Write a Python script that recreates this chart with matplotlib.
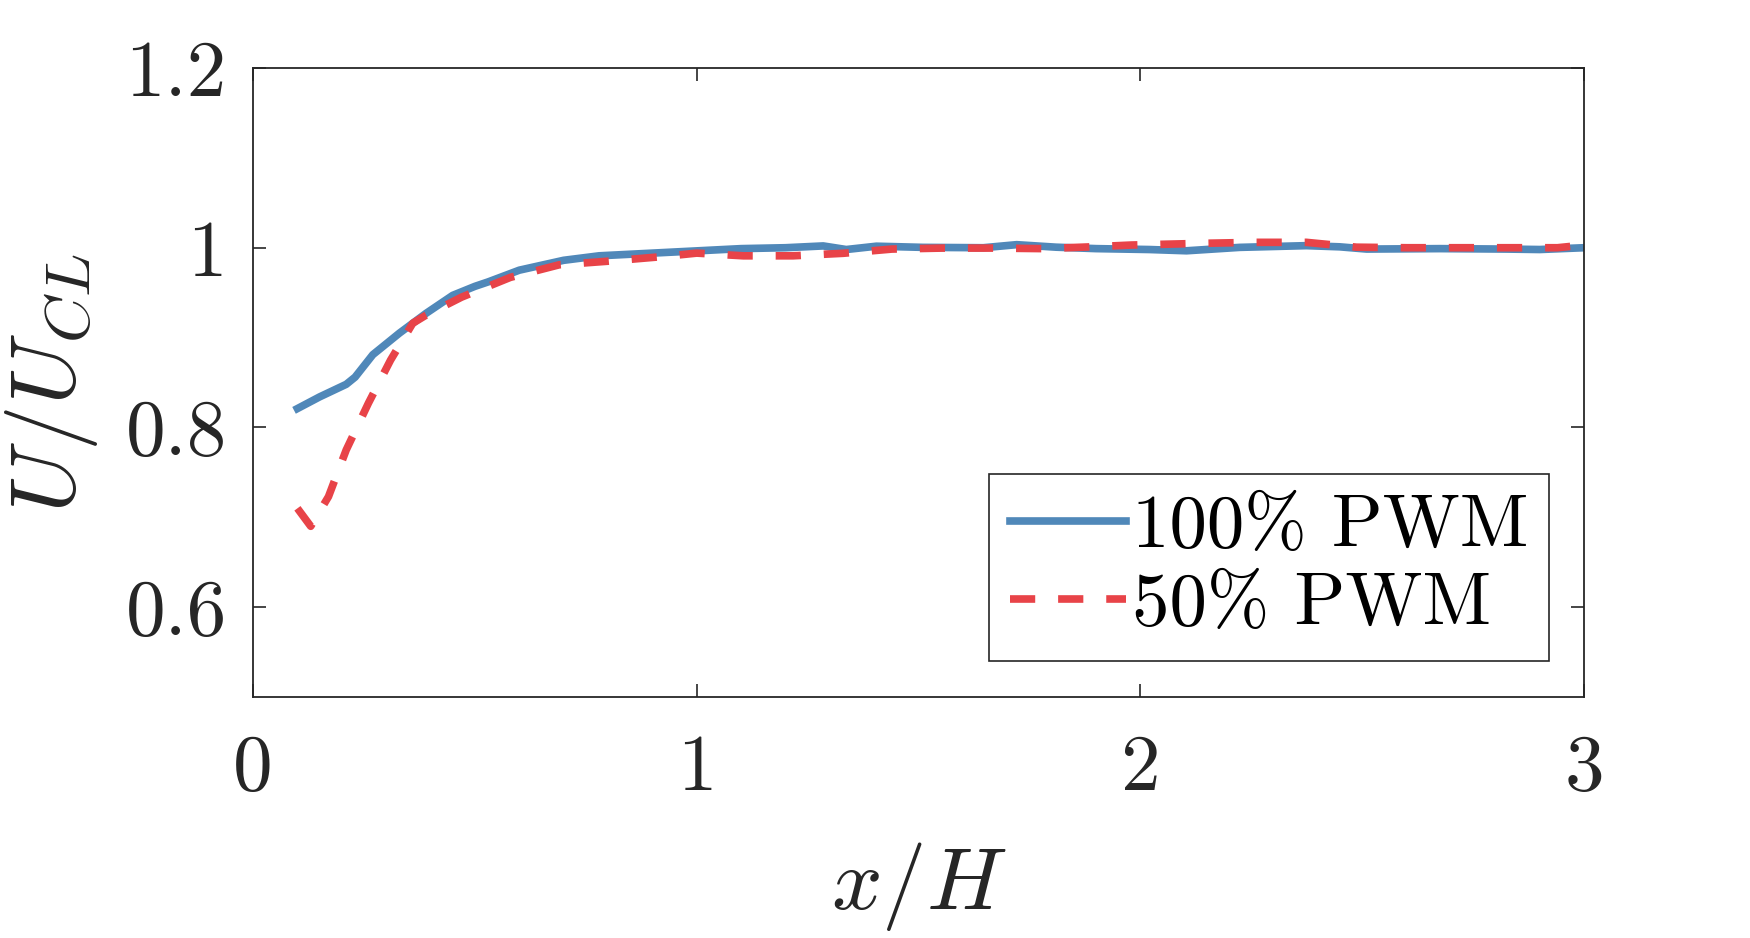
import matplotlib
matplotlib.use("Agg")
import matplotlib.pyplot as plt

plt.rcParams['font.family'] = 'serif'
plt.rcParams['font.serif'] = ['cmr10', 'DejaVu Serif']
plt.rcParams['mathtext.fontset'] = 'cm'
plt.rcParams['axes.unicode_minus'] = False

# centreline-normalised velocity vs streamwise distance
x_100 = [0.10, 0.15, 0.21, 0.23, 0.27, 0.33, 0.39, 0.45, 0.50, 0.53, 0.60, 0.70,
         0.78, 0.90, 0.98, 1.10, 1.20, 1.285, 1.337, 1.405, 1.51, 1.646, 1.721,
         1.81, 1.90, 2.02, 2.104, 2.224, 2.374, 2.449, 2.51, 2.675, 2.825, 2.90, 3.00]
u_100 = [0.821, 0.834, 0.848, 0.856, 0.881, 0.905, 0.927, 0.947, 0.957, 0.962, 0.975, 0.986,
         0.991, 0.994, 0.996, 0.999, 1.000, 1.002, 0.998, 1.0017, 1.0004, 1.000, 1.0034,
         1.0006, 0.999, 0.998, 0.9966, 1.0004, 1.0023, 1.001, 0.9985, 0.999, 0.9985, 0.998, 1.000]

x_50 = [0.10, 0.13, 0.17, 0.21, 0.26, 0.31, 0.36, 0.39, 0.47, 0.58, 0.69, 0.80, 0.92,
        1.00, 1.105, 1.217, 1.33, 1.44, 1.553, 1.666, 1.78, 1.89, 1.98, 2.15, 2.26,
        2.374, 2.487, 2.60, 2.71, 2.825, 2.94, 3.00]
u_50 = [0.710, 0.690, 0.723, 0.775, 0.827, 0.875, 0.916, 0.925, 0.945, 0.967, 0.981, 0.985, 0.990,
        0.994, 0.991, 0.991, 0.9938, 0.9985, 0.9996, 0.9996, 0.999, 1.001, 1.003, 1.005, 1.006,
        1.006, 1.0006, 1.000, 1.000, 1.000, 1.000, 1.003]

xticks = [0, 1, 2, 3]
xticklabels = ['0', '1', '2', '3']
yticks = [0.6, 0.8, 1.0, 1.2]
yticklabels = ['0.6', '0.8', '1', '1.2']

axcol = '#262626'

fig = plt.figure(figsize=(17.5, 9.38), dpi=100)
ax = fig.add_axes([0.1446, 0.2569, 0.7606, 0.6706])

ax.plot(x_100, u_100, color='#5088B9', lw=5.5, label='100% PWM')
ax.plot(x_50, u_50, color='#E84348', lw=5.5, dashes=(3.3, 3.0), label='50% PWM')

ax.set_xlim(0, 3)
ax.set_ylim(0.5, 1.2)
ax.set_xticks(xticks)
ax.set_xticklabels(xticklabels)
ax.set_yticks(yticks)
ax.set_yticklabels(yticklabels)

ax.tick_params(direction='in', length=9.5, width=1.2, colors=axcol, labelsize=57,
               top=True, right=True, pad=19)
ax.tick_params(axis='x', pad=27)
for s in ax.spines.values():
    s.set_linewidth(1.3)
    s.set_color(axcol)

ax.set_xlabel(r'$x/H$', fontsize=64, color=axcol, labelpad=24)
ax.set_ylabel(r'$U/U_{CL}$', fontsize=66, color=axcol, labelpad=18)

leg = ax.legend(loc='lower right', bbox_to_anchor=(0.974, 0.057), borderaxespad=0,
                fontsize=54, handlelength=1.55, handletextpad=0.08, labelspacing=0.14,
                borderpad=0.28, fancybox=False, framealpha=1, edgecolor=axcol)
leg.get_frame().set_linewidth(1.2)

fig.savefig('out.png', dpi=100)
